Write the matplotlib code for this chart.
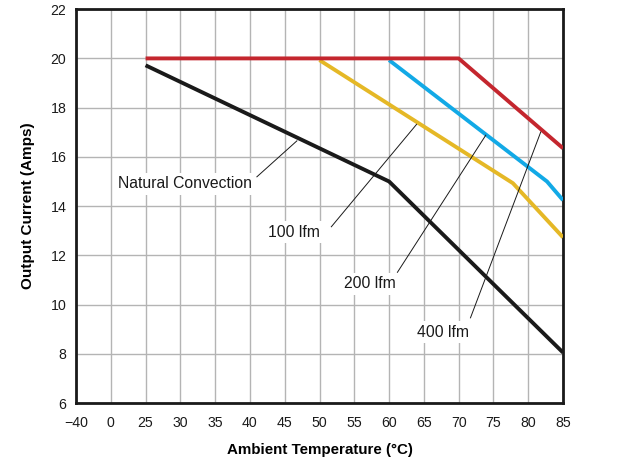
import numpy as np
import matplotlib
matplotlib.use("Agg")
import matplotlib.pyplot as plt

plt.rcParams['font.family'] = ['Liberation Sans', 'DejaVu Sans']

# ===== 数据 =====
tick_temps = [-40, 0, 25, 30, 35, 40, 45, 50, 55, 60, 65, 70, 75, 80, 85]
tick_labels = ["\u221240", "0", "25", "30", "35", "40", "45", "50", "55", "60",
               "65", "70", "75", "80", "85"]

nat_t = [25, 60, 85]
nat_i = [19.72, 15.0, 8.05]
lfm100_t = [50, 77.8, 85]
lfm100_i = [19.93, 14.93, 12.73]
lfm200_t = [60, 82.7, 85]
lfm200_i = [19.93, 15.0, 14.24]
lfm400_t = [25, 70, 85]
lfm400_i = [20.0, 20.0, 16.35]

# label text, text position (temp, amps), leader start, leader end on curve
ann_names = ["Natural Convection", "100 lfm", "200 lfm", "400 lfm"]
ann_text_xy = [(30.6, 14.9), (46.3, 12.93), (57.2, 10.84), (67.7, 8.87)]
ann_start = [(41.0, 15.19), (51.7, 13.16), (61.2, 11.31), (71.7, 9.46)]
ann_end = [(46.75, 16.65), (63.95, 17.32), (73.9, 16.88), (81.8, 17.01)]


def to_pos(t):
    # broken axis: -40 and 0 take one slot each, then 5 degree steps from 25
    t = np.asarray(t, dtype=float)
    return np.where(t >= 25, 2 + (t - 25) / 5.0, np.where(t >= 0, 1 + t / 25.0, 1 + t / 40.0))


fig = plt.figure(figsize=(6.21, 4.59), dpi=100)
ax = fig.add_axes([0.1224, 0.122, 0.7842, 0.858])

ax.plot(to_pos(nat_t), nat_i, color='#1a1a1a', lw=2.8, solid_capstyle='butt', zorder=3)
ax.plot(to_pos(lfm100_t), lfm100_i, color='#e5b826', lw=2.8, solid_capstyle='butt', zorder=3)
ax.plot(to_pos(lfm200_t), lfm200_i, color='#12a9e6', lw=2.8, solid_capstyle='butt', zorder=3)
ax.plot(to_pos(lfm400_t), lfm400_i, color='#c4262e', lw=2.8, solid_capstyle='butt', zorder=3)

for name, txy, s, e in zip(ann_names, ann_text_xy, ann_start, ann_end):
    ax.plot(to_pos([s[0], e[0]]), [s[1], e[1]], color='#1a1a1a', lw=0.7, zorder=4)
    ax.text(float(to_pos(txy[0])), txy[1], name, ha='center', va='center', fontsize=11.3,
            color='#1a1a1a', zorder=2,
            bbox=dict(facecolor='white', edgecolor='none', pad=2.5))

ax.set_xlim(0, 14)
ax.set_ylim(6, 22)
ax.set_xticks(np.arange(len(tick_temps)))
ax.set_xticklabels(tick_labels)
ax.set_yticks(np.arange(6, 23, 2))
ax.tick_params(length=0, labelsize=10.2, colors='#1a1a1a')
ax.tick_params(axis='x', pad=9)
ax.tick_params(axis='y', pad=7)
ax.grid(True, color='#b4b4b4', lw=1.0, zorder=0)
ax.set_axisbelow(True)
for sp in ax.spines.values():
    sp.set_linewidth(2.0)
    sp.set_color('#1a1a1a')

ax.set_xlabel('Ambient Temperature (\u00b0C)', fontsize=10.9, fontweight='bold', labelpad=10)
ax.set_ylabel('Output Current (Amps)', fontsize=11, fontweight='bold', labelpad=11)

fig.savefig('out.png', dpi=100)
